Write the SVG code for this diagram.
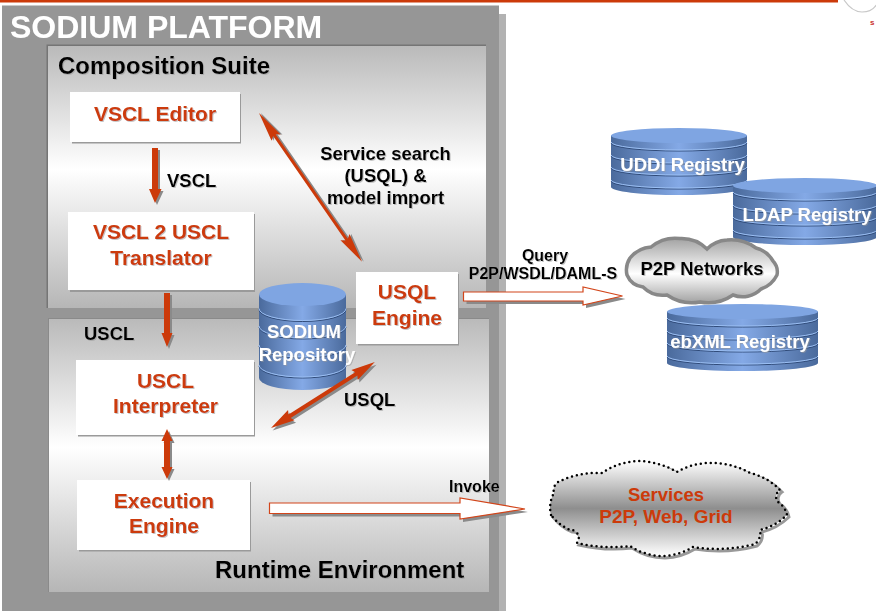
<svg xmlns="http://www.w3.org/2000/svg" xmlns:xlink="http://www.w3.org/1999/xlink" width="876" height="611" viewBox="0 0 876 611">
<style>
text{font-family:"Liberation Sans",Arial,sans-serif;font-weight:bold}
.r{fill:#cc3a0a;font-size:21px;text-anchor:middle}
.k{fill:#000;font-size:18.5px}
.m{text-anchor:middle}
.w{fill:#fff;font-size:18.5px;text-anchor:middle}
.box{fill:#fff}
.boxs{fill:#9a9a9a}
.body{fill:url(#cylBody)}
.top{fill:#7fa5e2}
.band{fill:none;stroke:#9cc0f4;stroke-width:1}
.bandd{fill:none;stroke:#2f4a78;stroke-width:1}
.arr{fill:#cc3a0a}
.ars{fill:#8a8a8a}
.blk{fill:#fff;stroke:#d2451a;stroke-width:1.2}
</style>
<defs>
<linearGradient id="pan" x1="0" y1="0" x2="0" y2="1"><stop offset="0" stop-color="#bababa"/><stop offset=".47" stop-color="#fff"/><stop offset="1" stop-color="#b6b6b6"/></linearGradient>
<linearGradient id="cylBody" x1="0" y1="0" x2="1" y2="0"><stop offset="0" stop-color="#4a6a9c"/><stop offset=".5" stop-color="#84a9e6"/><stop offset="1" stop-color="#4a6a9c"/></linearGradient>
<linearGradient id="cl1" x1="0" y1="0" x2="0" y2="1"><stop offset="0" stop-color="#a2a2a2"/><stop offset=".55" stop-color="#fff"/><stop offset="1" stop-color="#a2a2a2"/></linearGradient>
<linearGradient id="cl2" x1="0" y1="0" x2="0" y2="1"><stop offset="0" stop-color="#fff"/><stop offset=".5" stop-color="#8e8e8e"/><stop offset="1" stop-color="#fff"/></linearGradient>
<filter id="ts" x="-5%" y="-20%" width="110%" height="140%"><feDropShadow dx="1" dy="1" stdDeviation=".5" flood-color="#999" flood-opacity=".55"/></filter>
<path id="cl1p" d="M627,275 A22,22 0 0 1 630,258 A30,30 0 0 1 651,247 A38,38 0 0 1 680,238.500 A36,36 0 0 1 707,249 A30,30 0 0 1 727,240 A42,42 0 0 1 756,248 A28,28 0 0 1 773,261 A16,16 0 0 1 777,275 A28,28 0 0 1 761,289 A26,26 0 0 1 733,295 A44,44 0 0 1 700,302 A44,44 0 0 1 667,295 A28,28 0 0 1 643,287 A20,20 0 0 1 627,275 Z"/>
<path id="cl2p" d="M551,515 A30,30 0 0 1 554,493 A10,10 0 0 1 558,482 A90,90 0 0 1 602,473 A70,70 0 0 1 637,461 A80,80 0 0 1 677,472 A66,66 0 0 1 713,463 A80,80 0 0 1 750,473 A60,60 0 0 1 780,490 A8,8 0 0 0 778,502 A20,20 0 0 1 787,515 A60,60 0 0 1 760,530 A14,14 0 0 1 755,544 A150,150 0 0 1 693,547 A60,60 0 0 1 663,556 A60,60 0 0 1 630,546 A150,150 0 0 1 577,543 A8,8 0 0 0 570,530 A50,50 0 0 1 551,515 Z"/>
</defs>
<rect width="876" height="611" fill="#fff"/>
<rect x="0" y="0" width="838" height="2.5" fill="#cc3a0a"/>
<g id="logo"><path d="M844,0 Q852,12 862,12 Q872,12 877,4" fill="none" stroke="#c8c8c8" stroke-width="1.2"/><text x="870" y="25" font-size="8" fill="#c9302c">s</text></g>

<g id="platform">
<rect x="499" y="14" width="7" height="597" fill="#b2b2b2"/>
<rect x="2" y="5.500" width="497" height="605.500" fill="#969696"/>
<text x="10" y="37.500" font-size="32" fill="#fff" filter="url(#ts)">SODIUM PLATFORM</text>
</g>
<g id="composition-suite">
<rect x="46.500" y="44.500" width="439.500" height="263.500" fill="#757575"/>
<rect x="48" y="46" width="438" height="262" fill="url(#pan)"/>
<text x="58" y="74" font-size="24" fill="#000" filter="url(#ts)">Composition Suite</text>
</g>
<g id="runtime-environment">
<rect x="48" y="318" width="441" height="274" fill="#8a8a8a"/>
<rect x="49" y="319" width="440" height="273" fill="url(#pan)"/>
<text x="215" y="577.500" font-size="24" fill="#000" filter="url(#ts)">Runtime Environment</text>
</g>

<g id="vscl-editor"><rect class="boxs" x="72" y="94" width="169" height="49.500"/><rect class="box" x="70" y="92" width="170" height="50"/><text class="r" x="155" y="120.500" filter="url(#ts)">VSCL Editor</text></g>
<g id="translator"><rect class="boxs" x="70" y="214" width="185" height="78"/><rect class="box" x="68" y="212" width="186" height="78"/><text class="r" x="161" y="239" filter="url(#ts)">VSCL 2 USCL</text><text class="r" x="161" y="265" filter="url(#ts)">Translator</text></g>

<g id="sodium-repository">
<path class="body" d="M259,294.500 V378 A43.500,12 0 0 0 346,378 V294.500 Z"/>
<path class="bandd" d="M259,309.500 A43.500,12 0 0 0 346,309.500 M259,327 A43.500,12 0 0 0 346,327 M259,346 A43.500,12 0 0 0 346,346 M259,366 A43.500,12 0 0 0 346,366"/>
<path class="band" d="M259,308.500 A43.500,12 0 0 0 346,308.500 M259,326 A43.500,12 0 0 0 346,326 M259,345 A43.500,12 0 0 0 346,345 M259,365 A43.500,12 0 0 0 346,365"/>
<ellipse class="top" cx="302.500" cy="294.500" rx="43.500" ry="11.500"/>
<text class="w" x="304" y="338" filter="url(#ts)">SODIUM</text><text class="w" x="307" y="361" filter="url(#ts)">Repository</text>
</g>
<g id="usql-engine"><rect class="boxs" x="358" y="274" width="101" height="71.500"/><rect class="box" x="356" y="272" width="102" height="72"/><text class="r" x="407" y="298.500" filter="url(#ts)">USQL</text><text class="r" x="407" y="324.500" filter="url(#ts)">Engine</text></g>
<g id="uscl-interpreter"><rect class="boxs" x="78" y="362" width="177" height="74.500"/><rect class="box" x="76" y="360" width="178" height="75"/><text class="r" x="165.500" y="388" filter="url(#ts)">USCL</text><text class="r" x="165.500" y="413" filter="url(#ts)">Interpreter</text></g>
<g id="execution-engine"><rect class="boxs" x="79" y="482" width="172" height="69.500"/><rect class="box" x="77" y="480" width="173" height="70"/><text class="r" x="164" y="507.500" filter="url(#ts)">Execution</text><text class="r" x="164" y="532.500" filter="url(#ts)">Engine</text></g>

<g id="uddi-registry">
<path class="body" d="M611,135.500 V187 A68,8 0 0 0 747,187 V135.500 Z"/>
<path class="bandd" d="M611,143 A68,8 0 0 0 747,143 M611,156 A68,8 0 0 0 747,156 M611,168 A68,8 0 0 0 747,168 M611,181 A68,8 0 0 0 747,181"/>
<path class="band" d="M611,142 A68,8 0 0 0 747,142 M611,155 A68,8 0 0 0 747,155 M611,167 A68,8 0 0 0 747,167 M611,180 A68,8 0 0 0 747,180"/>
<ellipse class="top" cx="679" cy="135.500" rx="68" ry="7.500"/>
<text class="w" x="682.500" y="170.500" filter="url(#ts)">UDDI Registry</text>
</g>
<g id="ldap-registry">
<path class="body" d="M733,185.500 V237 A72,8 0 0 0 877,237 V185.500 Z"/>
<path class="bandd" d="M733,193 A72,8 0 0 0 877,193 M733,206 A72,8 0 0 0 877,206 M733,218 A72,8 0 0 0 877,218 M733,231 A72,8 0 0 0 877,231"/>
<path class="band" d="M733,192 A72,8 0 0 0 877,192 M733,205 A72,8 0 0 0 877,205 M733,217 A72,8 0 0 0 877,217 M733,230 A72,8 0 0 0 877,230"/>
<ellipse class="top" cx="805" cy="185.500" rx="72" ry="7.500"/>
<text class="w" x="807" y="220.500" filter="url(#ts)">LDAP Registry</text>
</g>
<g id="ebxml-registry">
<path class="body" d="M667,311.500 V363 A75.500,8 0 0 0 818,363 V311.500 Z"/>
<path class="bandd" d="M667,319 A75.500,8 0 0 0 818,319 M667,332 A75.500,8 0 0 0 818,332 M667,344 A75.500,8 0 0 0 818,344 M667,357 A75.500,8 0 0 0 818,357"/>
<path class="band" d="M667,318 A75.500,8 0 0 0 818,318 M667,331 A75.500,8 0 0 0 818,331 M667,343 A75.500,8 0 0 0 818,343 M667,356 A75.500,8 0 0 0 818,356"/>
<ellipse class="top" cx="742.500" cy="311.500" rx="75.500" ry="7.500"/>
<text class="w" x="740" y="347.500" filter="url(#ts)">ebXML Registry</text>
</g>
<g id="p2p-networks">
<use xlink:href="#cl1p" href="#cl1p" fill="url(#cl1)" stroke="#888" stroke-width="3.500"/>
<text class="k m" x="702" y="275" filter="url(#ts)">P2P Networks</text>
</g>
<g id="services">
<use xlink:href="#cl2p" href="#cl2p" transform="translate(2,2)" fill="none" stroke="#999" stroke-width="3"/>
<use xlink:href="#cl2p" href="#cl2p" fill="url(#cl2)" stroke="#000" stroke-width="2.500" stroke-linecap="round" stroke-dasharray="0 5"/>
<text class="m" x="666" y="501" font-size="18.500" fill="#cc3a0a">Services</text>
<text class="m" x="666" y="523" font-size="19" fill="#cc3a0a">P2P, Web, Grid</text>
</g>

<g id="connectors">
<g transform="translate(2,2)" class="ars"><path d="M152,148 H158 V189 H161.500 L155,203 L149,189 H152 Z"/><path d="M164,293 H170 V333 H172.500 L167,347 L161.500,333 H164 Z"/><path d="M167,429 L172.500,441 H170 V467 H172.500 L167,479 L161.500,467 H164 V441 H161.500 Z"/></g>
<g class="arr"><path d="M152,148 H158 V189 H161.500 L155,203 L149,189 H152 Z"/><path d="M164,293 H170 V333 H172.500 L167,347 L161.500,333 H164 Z"/><path d="M167,429 L172.500,441 H170 V467 H172.500 L167,479 L161.500,467 H164 V441 H161.500 Z"/></g>
<g transform="translate(259,113) rotate(55.300)">
<path class="ars" transform="translate(1,-1.500)" d="M0,0 L30,-5.500 L27,-1.500 H154 L151,-5.500 L181,0 L151,5.500 L154,1.500 H27 L30,5.500 Z"/>
<path class="arr" d="M0,0 L30,-5.500 L27,-1.500 H154 L151,-5.500 L181,0 L151,5.500 L154,1.500 H27 L30,5.500 Z"/>
</g>
<g transform="translate(271,428) rotate(-32.400)">
<path class="ars" transform="translate(0,3)" d="M0,0 L24,-6 L22,-2 H101 L99,-6 L123,0 L99,6 L101,2 H22 L24,6 Z"/>
<path class="arr" d="M0,0 L24,-6 L22,-2 H101 L99,-6 L123,0 L99,6 L101,2 H22 L24,6 Z"/>
</g>
<path class="ars" transform="translate(3,3)" d="M463.500,292 H583 V287 L622.500,296 L583,305 V301 H463.500 Z"/>
<path class="blk" d="M463.500,292 H583 V287 L622.500,296 L583,305 V301 H463.500 Z"/>
<path class="ars" transform="translate(3,3)" d="M269.500,503 H460 V498 L525,509 L460,519 V513.500 H269.500 Z"/>
<path class="blk" d="M269.500,503 H460 V498 L525,509 L460,519 V513.500 H269.500 Z"/>
<text class="k" x="167" y="186.500" filter="url(#ts)">VSCL</text>
<text class="k m" x="385.500" y="160" filter="url(#ts)">Service search</text>
<text class="k m" x="385.500" y="182" filter="url(#ts)">(USQL) &amp;</text>
<text class="k m" x="385.500" y="204" filter="url(#ts)">model import</text>
<text class="k" x="84" y="340" filter="url(#ts)">USCL</text>
<text class="k" x="344" y="406" filter="url(#ts)">USQL</text>
<text class="m" x="545" y="261" font-size="16" filter="url(#ts)">Query</text>
<text class="m" x="543" y="279" font-size="16" filter="url(#ts)">P2P/WSDL/DAML-S</text>
<text x="449" y="492" font-size="16" filter="url(#ts)">Invoke</text>
</g>
</svg>
